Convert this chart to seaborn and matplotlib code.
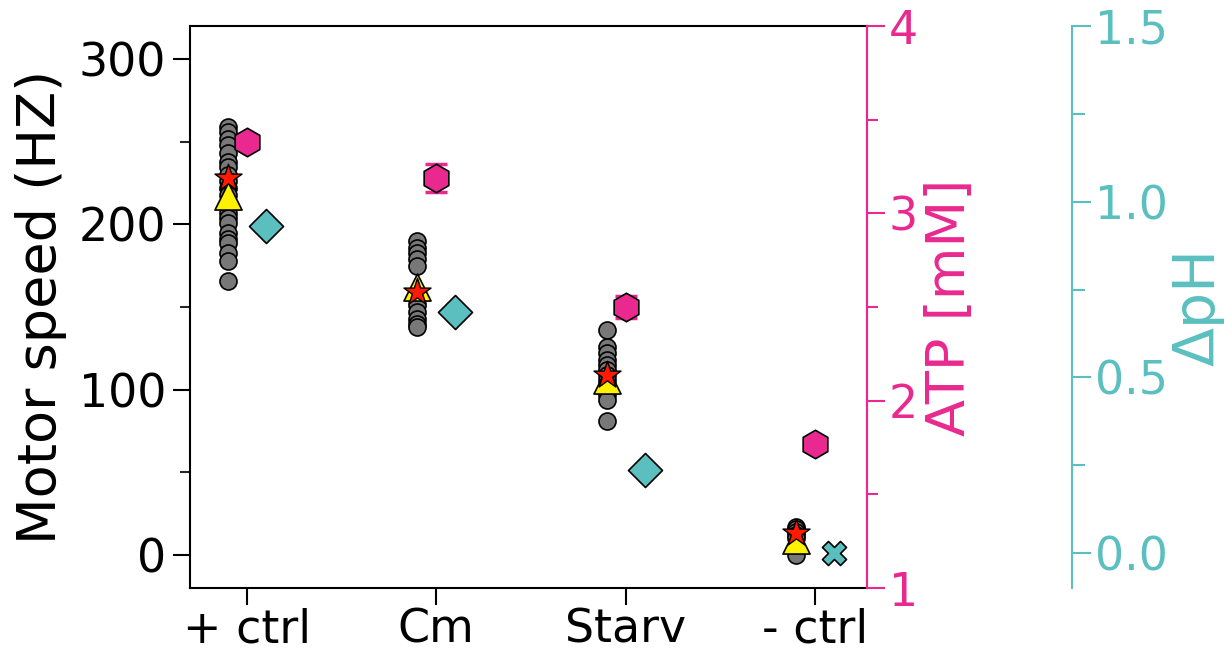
import numpy as np
import pandas as pd
import matplotlib
matplotlib.use("Agg")
import matplotlib.pyplot as plt
from matplotlib.ticker import MultipleLocator
import seaborn as sns

# Conditions
conditions = ["+ ctrl", "Cm", "Starv", "- ctrl"]

# Individual motor speed measurements (Hz)
speed_pos_ctrl = [259, 256, 252, 248, 243, 238, 235, 230, 226, 222, 218,
                  213, 207, 204, 201, 195, 191, 189, 183, 178, 166]
speed_cm = [190, 186, 183, 179, 175, 155, 151, 147, 143, 140, 138]
speed_starv = [136, 126, 122, 118, 115, 112, 109, 106, 103, 100, 97, 94, 81]
speed_neg_ctrl = [17, 16, 14, 12, 10, 0]

# Summary speeds per condition (Hz)
speed_star = [228, 159, 109, 13]
speed_triangle = [217, 162, 106, 9]

# ATP concentration (mM) and its error
atp_mean = [3.38, 3.19, 2.50, 1.77]
atp_err = [0.03, 0.075, 0.06, 0.02]

# Proton gradient
dph = [0.93, 0.685, 0.235, 0.0]

PINK = "#E9298F"
TEAL = "#5BBFC0"
GRAY = "#787878"

sns.set_theme(style="ticks")
plt.rcParams["font.family"] = ["DejaVu Sans"]

LABEL_FS = 39
TICK_FS = 33

speeds = [speed_pos_ctrl, speed_cm, speed_starv, speed_neg_ctrl]
pos = np.arange(len(conditions))

df_speed = pd.DataFrame({
    "x": np.concatenate([[i - 0.1] * len(s) for i, s in enumerate(speeds)]),
    "speed": np.concatenate(speeds),
})
df_sum = pd.DataFrame({"x": pos - 0.1, "star": speed_star, "tri": speed_triangle})
df_atp = pd.DataFrame({"x": pos, "atp": atp_mean, "err": atp_err})
df_ph = pd.DataFrame({"x": pos + 0.1, "dph": dph})

fig = plt.figure(figsize=(12.24, 6.53), dpi=100)
ax = fig.add_axes([0.155, 0.0995, 0.553, 0.8605])

sns.scatterplot(data=df_speed, x="x", y="speed", ax=ax, color=GRAY,
                edgecolor="black", linewidth=1.2, s=150, zorder=3, legend=False)
sns.scatterplot(data=df_sum, x="x", y="tri", ax=ax, marker="^", color="#FFF200",
                edgecolor="black", linewidth=1.2, s=380, zorder=4, legend=False)
sns.scatterplot(data=df_sum, x="x", y="star", ax=ax, marker="*", color="#FF1A00",
                edgecolor="black", linewidth=1.0, s=420, zorder=5, legend=False)

ax.set_xlim(-0.3, 3.27)
ax.set_ylim(-20, 320)
ax.set_xticks(pos)
ax.set_xticklabels(conditions)
ax.yaxis.set_major_locator(MultipleLocator(100))
ax.yaxis.set_minor_locator(MultipleLocator(50))
ax.set_xlabel("")
ax.set_ylabel("Motor speed (HZ)", fontsize=LABEL_FS, color="black", labelpad=8)
ax.tick_params(axis="both", which="major", labelsize=TICK_FS, length=12, width=1.5,
               colors="black", direction="out", pad=5)
ax.tick_params(axis="x", which="major", pad=2)
ax.tick_params(axis="y", which="minor", length=7, width=1.5, direction="out")
for sp in ax.spines.values():
    sp.set_linewidth(1.5)
    sp.set_color("black")

# ATP axis
ax2 = ax.twinx()
ax2.errorbar(df_atp["x"], df_atp["atp"], yerr=df_atp["err"], fmt="none",
             ecolor=PINK, elinewidth=2, capsize=8, capthick=2.5, zorder=3)
sns.scatterplot(data=df_atp, x="x", y="atp", ax=ax2, marker="h", color=PINK,
                edgecolor="black", linewidth=1.2, s=420, zorder=4, legend=False)
ax2.set_ylim(1, 4)
ax2.yaxis.set_major_locator(MultipleLocator(1))
ax2.yaxis.set_minor_locator(MultipleLocator(0.5))
ax2.set_ylabel("ATP [mM]", fontsize=LABEL_FS, color=PINK, labelpad=4)
ax2.tick_params(axis="y", which="major", labelsize=TICK_FS, length=13, width=1.5,
                colors=PINK, labelcolor=PINK, pad=3)
ax2.tick_params(axis="y", which="minor", length=8, width=1.5, colors=PINK)
ax2.spines["right"].set_color(PINK)
ax2.spines["right"].set_linewidth(1.5)
for s in ["top", "left", "bottom"]:
    ax2.spines[s].set_visible(False)

# Proton gradient axis
ax3 = ax.twinx()
ax3.spines["right"].set_position(("axes", 1.303))
sns.scatterplot(data=df_ph.iloc[:3], x="x", y="dph", ax=ax3, marker="D", color=TEAL,
                edgecolor="black", linewidth=1.2, s=300, zorder=4, legend=False)
sns.scatterplot(data=df_ph.iloc[3:], x="x", y="dph", ax=ax3, marker="X", color=TEAL,
                edgecolor="black", linewidth=1.2, s=300, zorder=4, legend=False)
ax3.set_ylim(-0.1, 1.5)
ax3.yaxis.set_major_locator(MultipleLocator(0.5))
ax3.yaxis.set_minor_locator(MultipleLocator(0.25))
ax3.set_ylabel("\u0394pH", fontsize=LABEL_FS + 2, color=TEAL, labelpad=2)
ax3.tick_params(axis="y", which="major", labelsize=TICK_FS, length=14, width=1.5,
                colors=TEAL, labelcolor=TEAL, pad=3)
ax3.tick_params(axis="y", which="minor", length=9, width=1.5, colors=TEAL)
ax3.spines["right"].set_color(TEAL)
ax3.spines["right"].set_linewidth(1.5)
for s in ["top", "left", "bottom"]:
    ax3.spines[s].set_visible(False)
ax3.set_xlim(ax.get_xlim())
ax2.set_xlim(ax.get_xlim())

fig.savefig("out.png", dpi=100, facecolor="white")
